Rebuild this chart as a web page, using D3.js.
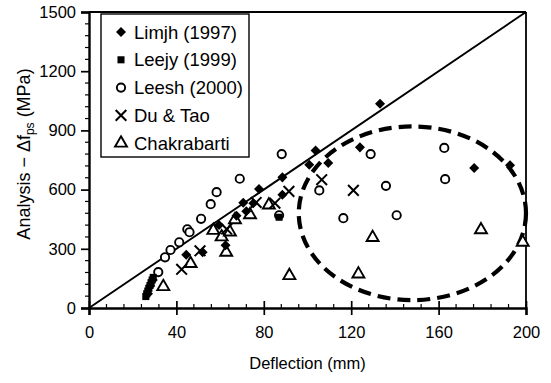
<!DOCTYPE html>
<html>
<head>
<meta charset="utf-8">
<script src="https://cdn.jsdelivr.net/npm/d3@7"></script>
<style>
  html, body { margin: 0; padding: 0; background: #fff; }
  svg { display: block; font-family: "Liberation Sans", Arial, sans-serif; }
</style>
</head>
<body>
<svg id="chart" width="551" height="383"></svg>
<script>
// Tick values
const xTicks = [0, 40, 80, 120, 160, 200];
const yTicks = [0, 300, 600, 900, 1200, 1500];

// Limjh (1997) — filled diamonds [deflection mm, stress MPa]
const limjh = [
  [27, 72], [28, 112], [29.2, 142], [44.5, 270], [52, 283], [59.5, 421],
  [62.5, 318], [67.5, 468], [70.6, 533], [72, 490], [75.2, 531], [77.8, 603],
  [88.5, 662], [88.5, 574], [100.8, 726], [103.7, 798], [109.5, 735],
  [124, 814], [133.2, 1035], [176.3, 709], [192.7, 723]
];
// Leejy (1999) — filled squares
const leejy = [
  [26, 58], [26.4, 72], [26.9, 86], [27.4, 100], [27.9, 114],
  [28.4, 128], [28.9, 142], [29.4, 155], [87, 460]
];
// Leesh (2000) — open circles
const leesh = [
  [31.7, 182], [34.8, 257], [37.3, 294], [41.3, 333], [45, 399], [46, 384],
  [51.3, 452], [55.7, 526], [58.4, 587], [69, 655], [88.2, 780], [87, 470],
  [105.4, 596], [116.4, 455], [128.9, 780], [135.9, 619], [140.8, 470],
  [162.6, 811], [163, 653]
];
// Du & Tao — crosses
const duTao = [
  [42.4, 196], [50.8, 290], [63, 400], [76.5, 535], [85.1, 531],
  [91.5, 591], [106.5, 650], [121, 596]
];
// Chakrabarti — open triangles
const chakrabarti = [
  [34, 108], [46.5, 225], [56.9, 393], [60.7, 360], [62.8, 282], [64.5, 385],
  [66.8, 447], [73.7, 472], [82.3, 522], [91.7, 164], [123.3, 172],
  [129.8, 357], [179.4, 396], [198.5, 333]
];

// Dashed ellipse around the scattered points: centre and radii in data units
const ellipseCentre = [148, 480];
const ellipseRadii = [52, 440];

const svg = d3.select("#chart");
const x = d3.scaleLinear().domain([0, 200]).range([89, 526]);
const y = d3.scaleLinear().domain([0, 1500]).range([308, 12]);

// Frame: top and right borders
svg.append("line").attr("x1", x(0)).attr("x2", x(200)).attr("y1", y(1500)).attr("y2", y(1500))
  .attr("stroke", "#000").attr("stroke-width", 1.8);
svg.append("line").attr("x1", x(200)).attr("x2", x(200)).attr("y1", y(0)).attr("y2", y(1500))
  .attr("stroke", "#000").attr("stroke-width", 1.8);

// Minor ticks
const xMinor = d3.range(0, 201, 8).filter(v => v % 40 !== 0);
const yMinor = d3.range(0, 1501, 60).filter(v => v % 300 !== 0);
svg.append("g").selectAll("line").data(xMinor).join("line")
  .attr("x1", d => x(d)).attr("x2", d => x(d)).attr("y1", y(0)).attr("y2", y(0) - 4)
  .attr("stroke", "#000").attr("stroke-width", 1.2);
svg.append("g").selectAll("line").data(yMinor).join("line")
  .attr("x1", x(0) - 4).attr("x2", x(0)).attr("y1", d => y(d)).attr("y2", d => y(d))
  .attr("stroke", "#000").attr("stroke-width", 1.2);

// X axis
const gx = svg.append("g").attr("transform", `translate(0,${y(0)})`)
  .call(d3.axisBottom(x).tickValues(xTicks).tickSize(7).tickPadding(11).tickFormat(d3.format("d")));
gx.select(".domain").attr("stroke-width", 2.4);
gx.selectAll(".tick line").attr("y1", -7).attr("stroke-width", 1.7);
gx.selectAll(".tick text").attr("font-size", 16.5).attr("font-family", "Liberation Sans, Arial, sans-serif").attr("fill", "#000");

// Y axis
const gy = svg.append("g").attr("transform", `translate(${x(0)},0)`)
  .call(d3.axisLeft(y).tickValues(yTicks).tickSize(8).tickPadding(5).tickFormat(d3.format("d")));
gy.select(".domain").attr("stroke-width", 2.4);
gy.selectAll(".tick line").attr("x1", 0).attr("x2", -8).attr("stroke-width", 1.7);
gy.selectAll(".tick text").attr("font-size", 16.5).attr("font-family", "Liberation Sans, Arial, sans-serif").attr("fill", "#000");
gy.selectAll(".domain, .tick line").attr("stroke", "#000");
gx.selectAll(".domain, .tick line").attr("stroke", "#000");

// Axis titles
svg.append("text").attr("x", (x(0) + x(200)) / 2).attr("y", 369)
  .attr("text-anchor", "middle").attr("font-size", 16.5).text("Deflection (mm)");

const yTitle = svg.append("text")
  .attr("transform", `translate(30,${(y(0) + y(1500)) / 2 - 6}) rotate(-90)`)
  .attr("text-anchor", "middle").attr("font-size", 18);
yTitle.append("tspan").text("Analysis − Δf");
yTitle.append("tspan").attr("font-size", 12).attr("dy", 4).text("ps");
yTitle.append("tspan").attr("dy", -4).text(" (MPa)");

// Reference line through the origin to the top-right corner
svg.append("line").attr("x1", x(0)).attr("y1", y(0)).attr("x2", x(200)).attr("y2", y(1500))
  .attr("stroke", "#000").attr("stroke-width", 1.9);

// Dashed ellipse
svg.append("ellipse")
  .attr("cx", x(ellipseCentre[0])).attr("cy", y(ellipseCentre[1]))
  .attr("rx", x(ellipseRadii[0]) - x(0)).attr("ry", y(0) - y(ellipseRadii[1]))
  .attr("fill", "none").attr("stroke", "#000").attr("stroke-width", 4.2)
  .attr("stroke-dasharray", "13,7");

// Marker symbols
const sym = {
  diamond: d3.symbol().type(d3.symbolDiamond2).size(64),
  square: d3.symbol().type(d3.symbolSquare).size(50),
  circle: d3.symbol().type(d3.symbolCircle).size(54),
  cross: d3.symbol().type(d3.symbolTimes).size(76),
  triangle: d3.symbol().type(d3.symbolTriangle).size(62)
};
const styles = {
  diamond: { fill: "#000", stroke: "none", sw: 0 },
  square: { fill: "#000", stroke: "none", sw: 0 },
  circle: { fill: "#fff", stroke: "#000", sw: 1.9 },
  cross: { fill: "none", stroke: "#000", sw: 2 },
  triangle: { fill: "#fff", stroke: "#000", sw: 1.9 }
};

const series = [
  { name: "Limjh (1997)", shape: "diamond", data: limjh },
  { name: "Leejy (1999)", shape: "square", data: leejy },
  { name: "Leesh (2000)", shape: "circle", data: leesh },
  { name: "Du & Tao", shape: "cross", data: duTao },
  { name: "Chakrabarti", shape: "triangle", data: chakrabarti }
];

function drawMarkers(g, shape, data) {
  const st = styles[shape];
  g.selectAll("path").data(data).join("path")
    .attr("d", sym[shape]())
    .attr("transform", d => `translate(${x(d[0])},${y(d[1])})`)
    .attr("fill", st.fill).attr("stroke", st.stroke).attr("stroke-width", st.sw);
}

// Draw order: open symbols first, filled on top
["triangle", "circle", "cross", "square", "diamond"].forEach(shape => {
  const s = series.find(s => s.shape === shape);
  drawMarkers(svg.append("g"), shape, s.data);
});

// Legend
const legend = svg.append("g");
legend.append("rect").attr("x", 101).attr("y", 14).attr("width", 148).attr("height", 143)
  .attr("fill", "#fff").attr("stroke", "#000").attr("stroke-width", 1.4);
series.forEach((s, i) => {
  const cy = 32 + i * 27.8;
  const st = styles[s.shape];
  legend.append("path").attr("d", sym[s.shape]())
    .attr("transform", `translate(121,${cy})`)
    .attr("fill", st.fill).attr("stroke", st.stroke).attr("stroke-width", st.sw);
  legend.append("text").attr("x", 134).attr("y", cy + 6.5)
    .attr("font-size", 18.5).text(s.name);
});
</script>
</body>
</html>
